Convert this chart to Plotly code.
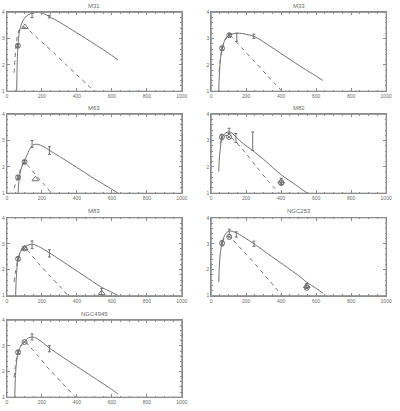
import plotly.graph_objects as go

# ---------------- data ----------------
names = ["M31", "M33", "M63", "M82", "M83", "NGC253", "NGC4945"]

m31_solid_x = [56, 58, 62, 68, 78, 95, 120, 150, 180, 210, 243, 300, 400, 500, 600, 636]
m31_solid_y = [1.0, 1.8, 2.6, 3.1, 3.45, 3.72, 3.9, 3.98, 4.0, 3.95, 3.84, 3.63, 3.22, 2.8, 2.36, 2.18]
m31_dash_x = [41, 46, 52, 60, 72, 88, 105, 130, 170, 220, 280, 340, 400, 460, 499]
m31_dash_y = [1.7, 2.2, 2.7, 3.1, 3.35, 3.44, 3.42, 3.3, 3.05, 2.75, 2.38, 2.0, 1.62, 1.25, 1.0]
m31_circ_x, m31_circ_y = [63], [2.73]
m31_tri_x, m31_tri_y = [103], [3.44]
m31_err_x, m31_err_y, m31_err_e = [63, 144, 243], [2.73, 3.9, 3.84], [0.06, 0.1, 0.05]

m33_solid_x = [43, 46, 52, 62, 75, 90, 103, 125, 146, 180, 243, 300, 400, 500, 600, 637]
m33_solid_y = [1.0, 1.6, 2.2, 2.63, 2.9, 3.06, 3.14, 3.19, 3.21, 3.19, 3.09, 2.87, 2.43, 1.99, 1.57, 1.41]
m33_dash_x = [45, 50, 56, 62, 75, 90, 103, 120, 134, 180, 250, 320, 404]
m33_dash_y = [1.75, 2.1, 2.4, 2.63, 2.9, 3.08, 3.13, 3.05, 2.94, 2.61, 2.11, 1.6, 1.0]
m33_circ_x, m33_circ_y = [62, 103], [2.63, 3.13]
m33_tri_x, m33_tri_y = [], []
m33_err_x, m33_err_y, m33_err_e = [62, 103, 146, 243], [2.63, 3.13, 3.05, 3.09], [0.08, 0.06, 0.15, 0.08]

m63_solid_x = [64, 68, 74, 80, 90, 101, 115, 130, 150, 175, 210, 243, 300, 400, 500, 600, 636]
m63_solid_y = [1.0, 1.4, 1.7, 1.9, 2.08, 2.22, 2.45, 2.67, 2.84, 2.86, 2.77, 2.63, 2.4, 1.98, 1.55, 1.15, 1.0]
m63_dash_x = [41, 48, 56, 64, 75, 88, 100, 130, 170, 210, 256]
m63_dash_y = [1.19, 1.32, 1.47, 1.6, 1.85, 2.08, 2.18, 1.97, 1.66, 1.35, 1.0]
m63_circ_x, m63_circ_y = [64, 101], [1.6, 2.19]
m63_tri_x, m63_tri_y = [163], [1.53]
m63_err_x, m63_err_y, m63_err_e = [64, 101, 144, 243], [1.6, 2.19, 2.87, 2.62], [0.08, 0.06, 0.13, 0.15]

m82_solid_x = [43, 46, 52, 61, 75, 90, 102, 120, 141, 180, 237, 300, 400, 480, 549]
m82_solid_y = [1.82, 2.3, 2.7, 3.1, 3.25, 3.32, 3.33, 3.28, 3.14, 2.9, 2.62, 2.28, 1.7, 1.33, 1.0]
m82_dash_x = [50, 61, 75, 90, 105, 125, 142, 200, 260, 320, 389]
m82_dash_y = [2.9, 3.05, 3.17, 3.2, 3.15, 3.05, 2.95, 2.5, 2.0, 1.5, 1.0]
m82_circ_x, m82_circ_y = [61, 102, 400], [3.14, 3.14, 1.38]
m82_tri_x, m82_tri_y = [400], [1.45]
m82_err_x, m82_err_y, m82_err_e = [61, 102, 141, 237, 400], [3.14, 3.37, 3.1, 2.98, 1.45], [0.1, 0.1, 0.17, 0.35, 0.12]

m83_solid_x = [50, 53, 58, 64, 75, 88, 110, 144, 180, 243, 300, 400, 500, 542, 600, 636]
m83_solid_y = [1.0, 1.6, 2.1, 2.42, 2.65, 2.8, 2.92, 2.98, 2.9, 2.65, 2.4, 1.95, 1.5, 1.32, 1.13, 1.0]
m83_dash_x = [41, 50, 58, 64, 75, 88, 100, 130, 180, 240, 300, 350]
m83_dash_y = [1.53, 1.95, 2.25, 2.42, 2.65, 2.8, 2.83, 2.65, 2.25, 1.8, 1.38, 1.0]
m83_circ_x, m83_circ_y = [64, 101], [2.42, 2.82]
m83_tri_x, m83_tri_y = [101, 542], [2.82, 1.1]
m83_err_x, m83_err_y, m83_err_e = [64, 144, 243, 542], [2.42, 2.96, 2.63, 1.1], [0.08, 0.15, 0.14, 0.18]

n253_solid_x = [43, 46, 52, 62, 75, 90, 103, 120, 143, 180, 244, 300, 400, 500, 546, 600, 640]
n253_solid_y = [1.53, 2.1, 2.65, 3.05, 3.3, 3.44, 3.49, 3.48, 3.42, 3.28, 3.0, 2.73, 2.25, 1.77, 1.52, 1.28, 1.09]
n253_dash_x = [62, 75, 90, 103, 120, 150, 200, 260, 330, 405]
n253_dash_y = [3.05, 3.2, 3.28, 3.28, 3.18, 2.95, 2.6, 2.15, 1.6, 1.0]
n253_circ_x, n253_circ_y = [62, 103, 546], [3.02, 3.26, 1.3]
n253_tri_x, n253_tri_y = [546], [1.37]
n253_err_x, n253_err_y, n253_err_e = [62, 103, 143, 244, 546], [3.02, 3.46, 3.36, 3.0, 1.37], [0.1, 0.1, 0.1, 0.1, 0.1]

n4945_solid_x = [45, 48, 54, 64, 80, 101, 120, 144, 170, 210, 243, 300, 400, 500, 600, 636]
n4945_solid_y = [1.0, 1.7, 2.3, 2.72, 3.0, 3.17, 3.3, 3.35, 3.3, 3.1, 2.92, 2.65, 2.2, 1.75, 1.3, 1.12]
n4945_dash_x = [41, 48, 56, 64, 80, 101, 130, 180, 240, 310, 392]
n4945_dash_y = [1.77, 2.2, 2.55, 2.72, 3.0, 3.18, 2.98, 2.6, 2.1, 1.6, 1.0]
n4945_circ_x, n4945_circ_y = [64, 101], [2.75, 3.15]
n4945_tri_x, n4945_tri_y = [], []
n4945_err_x, n4945_err_y, n4945_err_e = [64, 144, 243], [2.75, 3.35, 2.89], [0.08, 0.12, 0.12]

x_ticks = [0, 200, 400, 600, 800, 1000]
y_ticks = [1, 2, 3, 4]

panels = [
    (m31_solid_x, m31_solid_y, m31_dash_x, m31_dash_y, m31_circ_x, m31_circ_y, m31_tri_x, m31_tri_y, m31_err_x, m31_err_y, m31_err_e),
    (m33_solid_x, m33_solid_y, m33_dash_x, m33_dash_y, m33_circ_x, m33_circ_y, m33_tri_x, m33_tri_y, m33_err_x, m33_err_y, m33_err_e),
    (m63_solid_x, m63_solid_y, m63_dash_x, m63_dash_y, m63_circ_x, m63_circ_y, m63_tri_x, m63_tri_y, m63_err_x, m63_err_y, m63_err_e),
    (m82_solid_x, m82_solid_y, m82_dash_x, m82_dash_y, m82_circ_x, m82_circ_y, m82_tri_x, m82_tri_y, m82_err_x, m82_err_y, m82_err_e),
    (m83_solid_x, m83_solid_y, m83_dash_x, m83_dash_y, m83_circ_x, m83_circ_y, m83_tri_x, m83_tri_y, m83_err_x, m83_err_y, m83_err_e),
    (n253_solid_x, n253_solid_y, n253_dash_x, n253_dash_y, n253_circ_x, n253_circ_y, n253_tri_x, n253_tri_y, n253_err_x, n253_err_y, n253_err_e),
    (n4945_solid_x, n4945_solid_y, n4945_dash_x, n4945_dash_y, n4945_circ_x, n4945_circ_y, n4945_tri_x, n4945_tri_y, n4945_err_x, n4945_err_y, n4945_err_e),
]

# ---------------- layout geometry ----------------
W, H = 400, 411
col_px = [(6, 184), (214, 392)]
row_px = [(9.5, 89.5), (113, 193), (218, 297), (322, 400)]

LINE = "#707070"
FRAME = "#8c8c8c"
TEXT = "#6a6a6a"
FONT = "Liberation Sans"

fig = go.Figure()
layout = dict(width=W, height=H, margin=dict(l=0, r=0, t=0, b=0),
              paper_bgcolor="white", plot_bgcolor="white", showlegend=False,
              font=dict(family=FONT, size=6, color=TEXT))
annotations = []
shapes = []

for i, (name, p) in enumerate(zip(names, panels)):
    r, c = divmod(i, 2)
    k = i + 1
    xa = "x" if k == 1 else f"x{k}"
    ya = "y" if k == 1 else f"y{k}"
    sx, sy, dx, dy, cx, cy, tx, ty, ex, ey, ee = p
    fig.add_trace(go.Scatter(x=sx, y=sy, mode="lines", xaxis=xa, yaxis=ya,
                             line=dict(color=LINE, width=1, shape="spline", smoothing=0.8)))
    fig.add_trace(go.Scatter(x=dx, y=dy, mode="lines", xaxis=xa, yaxis=ya,
                             line=dict(color=LINE, width=1, dash="4px,4px", shape="spline", smoothing=0.8)))
    fig.add_trace(go.Scatter(x=ex, y=ey, mode="markers", xaxis=xa, yaxis=ya,
                             marker=dict(size=1, color=LINE, opacity=0),
                             error_y=dict(type="data", array=ee, visible=True, color=LINE, thickness=1, width=1.5)))
    if cx:
        fig.add_trace(go.Scatter(x=cx, y=cy, mode="markers", xaxis=xa, yaxis=ya,
                                 marker=dict(symbol="circle-x-open", size=5, color=LINE, line=dict(width=1, color=LINE))))
    if tx:
        fig.add_trace(go.Scatter(x=tx, y=ty, mode="markers", xaxis=xa, yaxis=ya,
                                 marker=dict(symbol="triangle-up-open", size=6, color=LINE, line=dict(width=1, color=LINE))))

    x0, x1 = col_px[c]
    yt, yb = row_px[r]
    axkey_x = "xaxis" if k == 1 else f"xaxis{k}"
    axkey_y = "yaxis" if k == 1 else f"yaxis{k}"
    common = dict(showline=True, linecolor=FRAME, linewidth=1, mirror="allticks",
                  ticks="inside", tickcolor=FRAME, tickwidth=1, showgrid=False, zeroline=False,
                  tickfont=dict(family=FONT, size=5, color=TEXT))
    layout[axkey_x] = dict(common, domain=[x0 / W, x1 / W], range=[0, 1000], anchor=ya,
                           tickvals=x_ticks, ticktext=[str(v) for v in x_ticks], ticklen=3,
                           ticklabelstandoff=0,
                           minor=dict(dtick=50, ticklen=1.5, ticks="inside", tickcolor=FRAME, showgrid=False))
    layout[axkey_y] = dict(common, domain=[1 - yb / H, 1 - yt / H], range=[1, 4], anchor=xa,
                           tickvals=y_ticks, ticktext=[str(v) for v in y_ticks], ticklen=3,
                           ticklabelstandoff=0,
                           minor=dict(dtick=0.2, ticklen=1.5, ticks="inside", tickcolor=FRAME, showgrid=False))
    shapes.append(dict(type="rect", xref="paper", yref="paper",
                       x0=x0 / W, x1=x1 / W, y0=1 - yb / H, y1=1 - yt / H,
                       line=dict(color=FRAME, width=1), fillcolor="rgba(0,0,0,0)", layer="above"))
    annotations.append(dict(text=name, x=(x0 + x1) / 2 / W, y=1 - (yt - 1.5) / H, xref="paper", yref="paper",
                            xanchor="center", yanchor="bottom", showarrow=False,
                            font=dict(family=FONT, size=6, color=TEXT)))

layout["annotations"] = annotations
layout["shapes"] = shapes
fig.update_layout(**layout)
fig.write_html("out.html", config={"displayModeBar": False},
               post_script="document.body.style.margin='0';document.body.style.overflow='hidden';")
